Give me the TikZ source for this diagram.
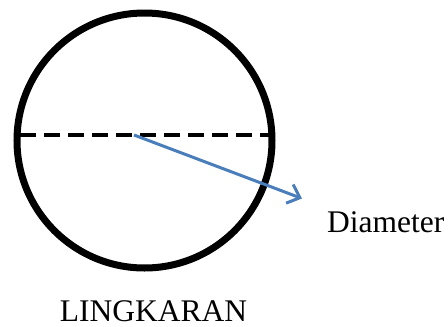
\documentclass[tikz,border=0pt]{standalone}
\usepackage{fontspec}
\setmainfont{Liberation Serif}
\usetikzlibrary{arrows.meta}
\definecolor{arrowblue}{HTML}{4A7EBB}
\tikzset{
  ring/.style={circle, draw=black, line width=7pt, minimum size=255pt, inner sep=0pt},
  dline/.style={line width=4.5pt, dash pattern=on 16pt off 8pt},
  barrow/.style={draw=arrowblue, line width=3pt, -{Straight Barb[length=11pt,width=20pt,line width=3pt]}},
  lbl/.style={font=\fontsize{31.5}{36}\selectfont, inner sep=0pt}
}
\begin{document}
\begin{tikzpicture}[x=1pt,y=-1pt]
\useasboundingbox (0,0) rectangle (448,327);
\node[ring] (c) at (144.5,140.5) {};
\coordinate (dl) at (20,135);
\coordinate (dr) at (269,135);
\coordinate (ac) at (134,135);
\coordinate (tip) at (302,198.5);
\draw[dline] (dl) -- (dr);
\draw[barrow] (ac) -- (tip);
\node[lbl, anchor=base west] (dia) at (327,232) {Diameter};
\node[lbl, anchor=base] (lk) at (153.5,321.5) {LINGKARAN};
\end{tikzpicture}
\end{document}
